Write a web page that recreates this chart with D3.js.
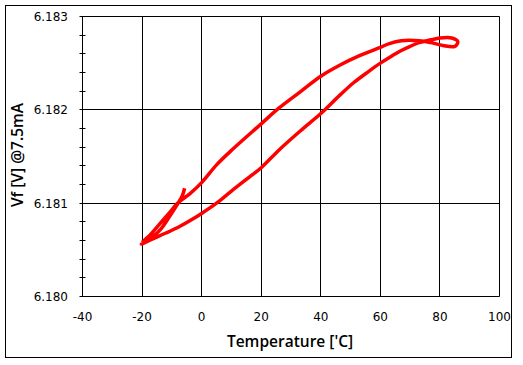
<!DOCTYPE html>
<html>
<head>
<meta charset="utf-8">
<script src="https://cdn.jsdelivr.net/npm/d3@7"></script>
<style>
  html, body { margin: 0; padding: 0; background: #fff; }
</style>
</head>
<body>
<div id="chart"></div>
<script>
// Vf vs temperature hysteresis loop

const temps = [-5.7, -6.5, -8.1, -10.5, -13.5, -16, -18.5, -20.2,
  -17, -12, -7.4, -3, 0, 5, 10, 16, 20, 26, 33, 40, 46.5, 51, 56, 60, 64, 66.7, 70, 73, 77, 80, 84, 86, 85, 81, 77,
  73, 67, 63, 60, 53, 46.5, 40, 33, 26, 20, 10.5, 5, 0, -4, -8.1, -11, -14, -17, -20];
const volts = [6.18116, 6.18108, 6.18099, 6.18087, 6.18073, 6.18065, 6.18059, 6.18056,
  6.18061, 6.18068, 6.18075, 6.18083, 6.18089, 6.18100, 6.18113, 6.18128, 6.18138, 6.18157, 6.18177, 6.18196, 6.18216, 6.18229, 6.18241, 6.18250, 6.18258, 6.18263, 6.18268, 6.18272, 6.18275, 6.18277, 6.18277, 6.18273, 6.18268, 6.18269, 6.18272,
  6.18274, 6.18274, 6.18271, 6.18267, 6.18258, 6.18248, 6.18236, 6.18219, 6.18202, 6.18185, 6.18158, 6.18141, 6.18122, 6.18110, 6.18100, 6.18089, 6.18078, 6.18067, 6.18058];

const xTicks = [-40, -20, 0, 20, 40, 60, 80, 100];
const yTicks = [6.180, 6.181, 6.182, 6.183];
const yMinor = [6.1802, 6.1804, 6.1806, 6.1808, 6.1812, 6.1814, 6.1816, 6.1818, 6.1822, 6.1824, 6.1826, 6.1828];

const width = 523, height = 365;

const svg = d3.select("#chart")
  .append("svg")
    .attr("width", width)
    .attr("height", height);

// outer frame
svg.append("rect")
  .attr("x", 5.5).attr("y", 5.5)
  .attr("width", 506).attr("height", 352)
  .attr("fill", "#fff")
  .attr("stroke", "#000");

const x = d3.scaleLinear().domain([-40, 100]).range([82.5, 499.5]);
const y = d3.scaleLinear().domain([6.180, 6.183]).range([296.5, 16.5]);

// grid
svg.append("g").selectAll("line")
  .data(xTicks)
  .enter().append("line")
    .attr("x1", d => Math.round(x(d) - 0.5) + 0.5)
    .attr("x2", d => Math.round(x(d) - 0.5) + 0.5)
    .attr("y1", y(6.183)).attr("y2", y(6.180))
    .attr("stroke", "#000");

svg.append("g").selectAll("line")
  .data(yTicks)
  .enter().append("line")
    .attr("x1", x(-40) - 3).attr("x2", x(100))
    .attr("y1", d => Math.round(y(d) - 0.5) + 0.5)
    .attr("y2", d => Math.round(y(d) - 0.5) + 0.5)
    .attr("stroke", "#000");

// minor y ticks
svg.append("g").selectAll("line")
  .data(yMinor)
  .enter().append("line")
    .attr("x1", x(-40) - 3).attr("x2", x(-40) + 3)
    .attr("y1", d => Math.round(y(d) - 0.5) + 0.5)
    .attr("y2", d => Math.round(y(d) - 0.5) + 0.5)
    .attr("stroke", "#000");

// tick labels
svg.append("g").selectAll("text")
  .data(xTicks)
  .enter().append("text")
    .attr("x", d => x(d))
    .attr("y", 321)
    .attr("text-anchor", "middle")
    .style("font-family", "DejaVu Sans")
    .style("font-size", "12px")
    .text(d => d);

svg.append("g").selectAll("text")
  .data(yTicks)
  .enter().append("text")
    .attr("x", 68)
    .attr("y", d => y(d) + 4.5)
    .attr("text-anchor", "end")
    .style("font-family", "DejaVu Sans")
    .style("font-size", "12px")
    .text(d => d3.format(".3f")(d));

// the curve
const pts = temps.map((t, i) => [t, volts[i]]);
const line = d3.line()
  .x(d => x(d[0]))
  .y(d => y(d[1]))
  .curve(d3.curveCatmullRom);

svg.append("path")
  .datum(pts)
  .attr("fill", "none")
  .attr("stroke", "#ff0000")
  .attr("stroke-width", 3.5)
  .attr("stroke-linejoin", "round")
  .attr("d", line);

// axis titles
svg.append("text")
  .attr("x", 290)
  .attr("y", 347)
  .attr("text-anchor", "middle")
  .style("font-family", "Open Sans")
  .style("font-weight", 600)
  .style("font-size", "15.5px")
  .text("Temperature ['C]");

svg.append("text")
  .attr("transform", "rotate(-90)")
  .attr("x", -155)
  .attr("y", 23)
  .attr("text-anchor", "middle")
  .style("font-family", "Open Sans")
  .style("font-weight", 600)
  .style("font-size", "15.5px")
  .text("Vf [V] @7.5mA");
</script>
</body>
</html>
